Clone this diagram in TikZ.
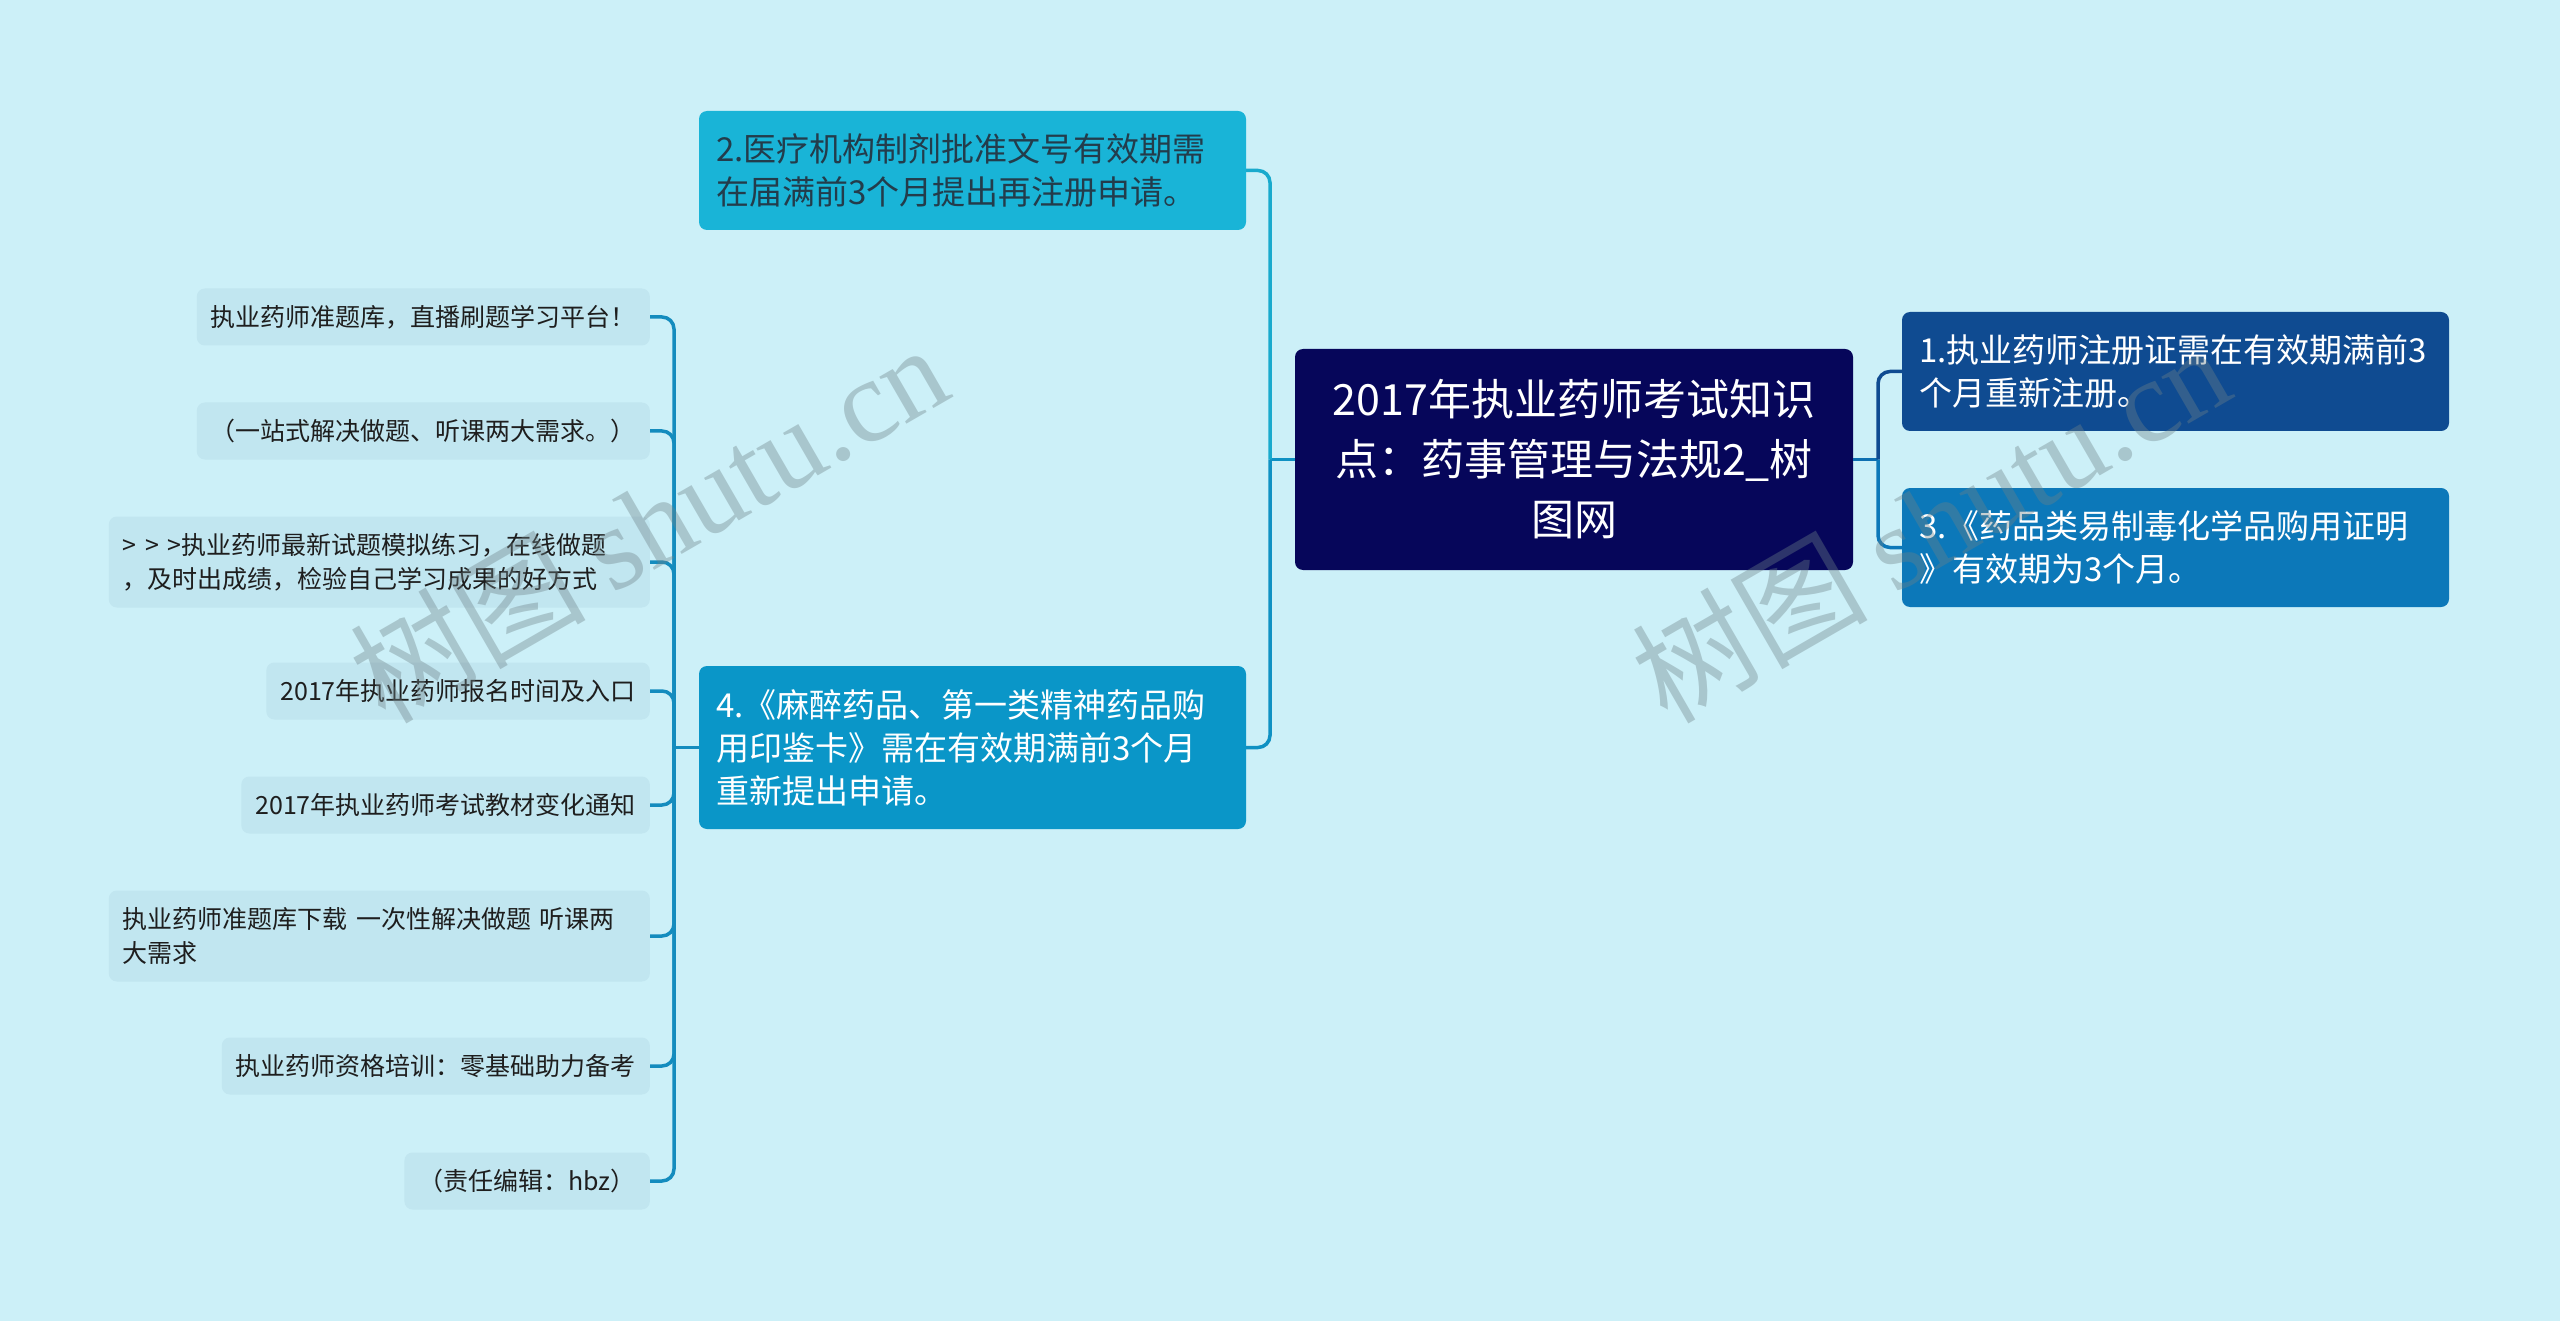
\documentclass[tikz,border=0pt]{standalone}
\usepackage{fontspec}
\setmainfont{Noto Sans CJK SC}
\newfontfamily\wmserif{Liberation Serif}
\definecolor{bgc}{RGB}{204,240,248}
\definecolor{leafc}{RGB}{193,230,240}
\definecolor{cC}{RGB}{6,6,90}
\definecolor{cOne}{RGB}{15,75,145}
\definecolor{cThree}{RGB}{12,120,185}
\definecolor{cTwo}{RGB}{25,180,215}
\definecolor{cFour}{RGB}{10,150,200}
\definecolor{twotext}{RGB}{35,60,75}
\definecolor{leaftext}{RGB}{30,30,30}
\definecolor{lnTwo}{RGB}{25,170,205}
\definecolor{lnFour}{RGB}{15,145,195}
\definecolor{lnLeaf}{RGB}{20,140,190}
\definecolor{wmc}{RGB}{110,130,135}
\begin{document}
\begin{tikzpicture}[x=1pt,y=-1pt,
  central/.style={fill=cC, text=white, rounded corners=8, minimum width=558, minimum height=221, align=center, inner sep=0, font=\fontsize{43}{60}\selectfont},
  mainbox/.style={rounded corners=8, text width=513, inner xsep=17, inner ysep=0, minimum height=119, align=left, font=\fontsize{33}{43}\selectfont},
  leaf/.style={fill=leafc, text=leaftext, rounded corners=8, inner xsep=14, inner ysep=0, minimum height=57, align=left, anchor=east, font=\fontsize{25}{34}\selectfont},
  conn/.style={line width=3.5, rounded corners=12},
  wm/.style={rotate=30, text=wmc, opacity=0.38, inner sep=0, font=\fontsize{118}{118}\selectfont}
]
\path[fill=bgc] (0,0) rectangle (2560,1321);

% central
\node[central] (c) at (1574,459.5) {2017年执业药师考试知识\\点：药事管理与法规2\_树\\图网};

% main branches
\node[mainbox, fill=cOne, text=white] (n1) at (2175.5,371.5) {1.执业药师注册证需在有效期满前3\\个月重新注册。};
\node[mainbox, fill=cThree, text=white] (n3) at (2175.5,547.5) {3.《药品类易制毒化学品购用证明\\》有效期为3个月。};
\node[mainbox, fill=cTwo, text=twotext] (n2) at (972.5,170.5) {2.医疗机构制剂批准文号有效期需\\在届满前3个月提出再注册申请。};
\node[mainbox, fill=cFour, text=white, minimum height=163] (n4) at (972.5,747.5) {4.《麻醉药品、第一类精神药品购\\用印鉴卡》需在有效期满前3个月\\重新提出申请。};

% leaves
\node[leaf] (L1) at (650,317) {执业药师准题库，直播刷题学习平台！};
\node[leaf] (L2) at (650,431) {（一站式解决做题、听课两大需求。）};
\node[leaf, text width=513, minimum height=91] (L3) at (650,562) {> > >执业药师最新试题模拟练习，在线做题\\，及时出成绩，检验自己学习成果的好方式};
\node[leaf] (L4) at (650,691) {2017年执业药师报名时间及入口};
\node[leaf] (L5) at (650,805) {2017年执业药师考试教材变化通知};
\node[leaf, text width=513, minimum height=91] (L6) at (650,936) {执业药师准题库下载 一次性解决做题 听课两\\大需求};
\node[leaf] (L7) at (650,1066) {执业药师资格培训：零基础助力备考};
\node[leaf] (L8) at (650,1181) {（责任编辑：hbz）};

% junctions
\coordinate (jC) at (1270,459.5);
\coordinate (jR) at (1878,459.5);
\coordinate (jL) at (674,747.5);

% connectors centre -> left
\draw[conn, draw=lnFour] (c.west) -- (jC);
\draw[conn, draw=lnTwo] (jC) |- (n2.east);
\draw[conn, draw=lnFour] (jC) |- (n4.east);
% connectors centre -> right
\draw[conn, draw=cThree!80!cOne] (c.east) -- (jR);
\draw[conn, draw=cOne] (jR) |- (n1.west);
\draw[conn, draw=cThree] (jR) |- (n3.west);
% connectors n4 -> leaves
\draw[conn, draw=lnLeaf] (n4.west) -- (jL);
\foreach \l in {L1,L2,L3,L4,L5,L6,L7,L8}
  \draw[conn, draw=lnLeaf] (jL) |- (\l.east);

% watermarks
\node[wm] (wm1) at (648,522) {树图 {\wmserif shutu.cn}};
\node[wm] (wm2) at (1930,522) {树图 {\wmserif shutu.cn}};
\end{tikzpicture}
\end{document}
